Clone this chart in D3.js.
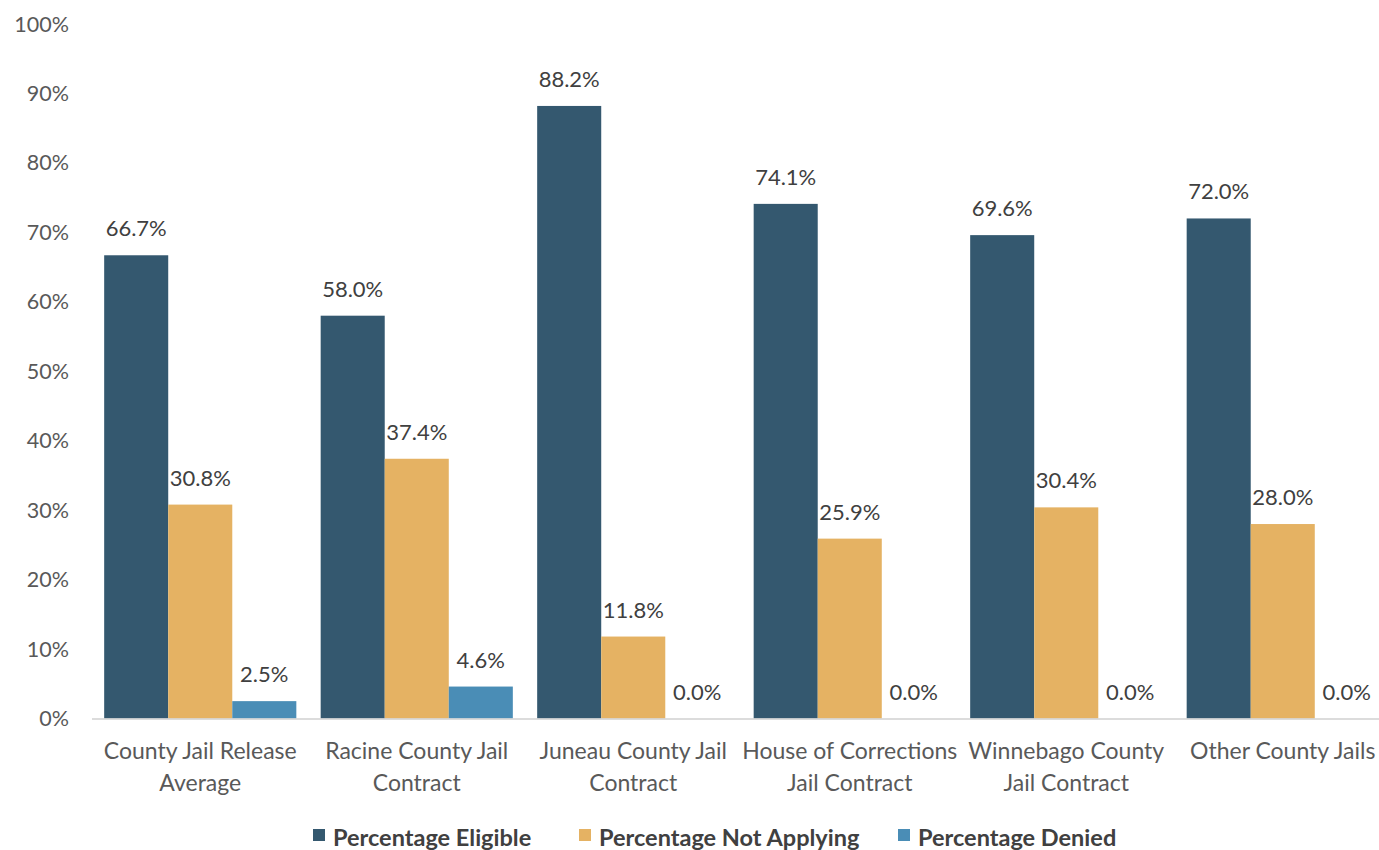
<!DOCTYPE html>
<html>
<head>
<meta charset="utf-8">
<script src="https://cdn.jsdelivr.net/npm/d3@7"></script>
<style>
  body { margin: 0; background: #fff; }
  svg { display: block; font-family: Lato, "Open Sans", sans-serif; }
</style>
</head>
<body>
<svg id="chart" width="1379" height="850"></svg>
<script>
// categories, each split over two lines like the original
const categories = [
  ['County Jail Release', 'Average'],
  ['Racine County Jail', 'Contract'],
  ['Juneau County Jail', 'Contract'],
  ['House of Corrections', 'Jail Contract'],
  ['Winnebago County', 'Jail Contract'],
  ['Other County Jails']
];
const seriesNames = ['Percentage Eligible', 'Percentage Not Applying', 'Percentage Denied'];
const eligible = [66.7, 58.0, 88.2, 74.1, 69.6, 72.0];
const notApplying = [30.8, 37.4, 11.8, 25.9, 30.4, 28.0];
const denied = [2.5, 4.6, 0.0, 0.0, 0.0, 0.0];
const yTicks = [0, 10, 20, 30, 40, 50, 60, 70, 80, 90, 100];

const colors = ['#34586f', '#e5b263', '#4a8db6'];
const series = [eligible, notApplying, denied];

const svg = d3.select('#chart');

// plot area
const plot = { left: 92, right: 1391, top: 24, bottom: 718.5 };

const x0 = d3.scaleBand()
  .domain(d3.range(categories.length))
  .range([plot.left, plot.right])
  .padding(0);

const x1 = d3.scaleBand()
  .domain(d3.range(series.length))
  .range([0, x0.bandwidth()])
  .paddingOuter(0.19)
  .paddingInner(0);

const y = d3.scaleLinear().domain([0, 100]).range([plot.bottom, plot.top]);

// y axis labels (no line, no ticks)
svg.append('g')
  .selectAll('text')
  .data(yTicks)
  .enter().append('text')
  .attr('x', 69)
  .attr('y', (d) => y(d))
  .attr('dy', '0.35em')
  .attr('text-anchor', 'end')
  .attr('fill', '#595959')
  .style('font-size', '21.5px')
  .text((d) => d + '%');

// bars
const groups = svg.append('g')
  .selectAll('g')
  .data(categories)
  .enter().append('g')
  .attr('transform', (d, i) => 'translate(' + x0(i) + ',0)');

groups.each(function(cat, ci) {
  const g = d3.select(this);
  series.forEach((values, si) => {
    const v = values[ci];
    g.append('rect')
      .attr('x', x1(si))
      .attr('y', y(v))
      .attr('width', x1.bandwidth())
      .attr('height', y(0) - y(v))
      .attr('fill', colors[si]);
    g.append('text')
      .attr('x', x1(si) + x1.bandwidth() / 2)
      .attr('y', y(v) - 19)
      .attr('text-anchor', 'middle')
      .attr('fill', '#404040')
      .style('font-size', '22px')
      .text(v.toFixed(1) + '%');
  });
});

// baseline
svg.append('line')
  .attr('x1', plot.left)
  .attr('x2', plot.right)
  .attr('y1', y(0) + 0.5)
  .attr('y2', y(0) + 0.5)
  .attr('stroke', '#d0d0d0')
  .attr('stroke-width', 1.5);

// category labels
const xLabels = svg.append('g')
  .selectAll('text')
  .data(categories)
  .enter().append('text')
  .attr('x', (d, i) => x0(i) + x0.bandwidth() / 2)
  .attr('y', 759)
  .attr('text-anchor', 'middle')
  .attr('fill', '#595959')
  .style('font-size', '23px');

xLabels.selectAll('tspan')
  .data((d) => d)
  .enter().append('tspan')
  .attr('x', function() { return d3.select(this.parentNode).attr('x'); })
  .attr('dy', (d, i) => i === 0 ? 0 : 32)
  .text((d) => d);

// legend
const legendX = [313, 579, 898];
const legend = svg.append('g')
  .selectAll('g')
  .data(seriesNames)
  .enter().append('g')
  .attr('transform', (d, i) => 'translate(' + legendX[i] + ',0)');

legend.append('rect')
  .attr('x', 0)
  .attr('y', 829)
  .attr('width', 12)
  .attr('height', 12)
  .attr('fill', (d, i) => colors[i]);

legend.append('text')
  .attr('x', 20)
  .attr('y', 846)
  .attr('fill', '#404040')
  .style('font-size', '23.5px')
  .style('font-weight', 'bold')
  .text((d) => d);
</script>
</body>
</html>
